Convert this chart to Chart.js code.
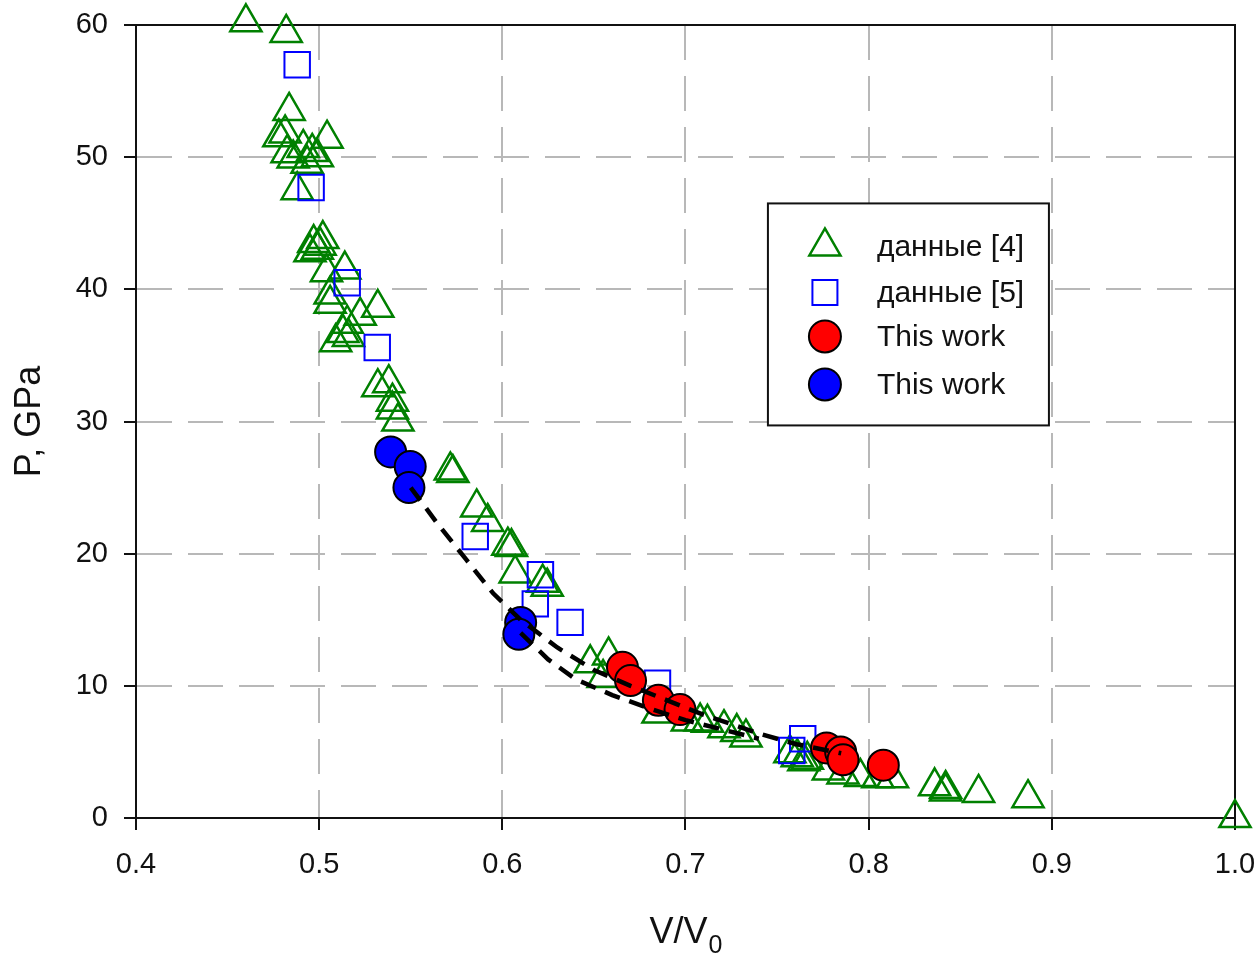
<!DOCTYPE html>
<html>
<head>
<meta charset="utf-8">
<script src="https://cdn.jsdelivr.net/npm/chart.js@4.4.1/dist/chart.umd.min.js"></script>
<style>
  html, body { margin: 0; padding: 0; background: #fff; }
  #wrap { width: 1258px; height: 956px; position: relative; }
</style>
</head>
<body>
<div id="wrap"><canvas id="grafica"></canvas></div>
<script>
// данные [4] - triangles
var d4V = [0.460, 0.482, 0.4836, 0.4814, 0.478, 0.4913, 0.5043, 0.4962, 0.4858, 0.4825, 0.4934, 0.499, 0.488,
  0.497, 0.5005, 0.502, 0.499, 0.495, 0.514, 0.504, 0.506, 0.506, 0.532, 0.5224, 0.5153, 0.513, 0.509, 0.516,
  0.532, 0.538, 0.540, 0.540, 0.543, 0.5716, 0.573, 0.586, 0.592, 0.603, 0.605, 0.607, 0.622, 0.6245,
  0.648, 0.658, 0.655, 0.685, 0.701, 0.708, 0.712, 0.721, 0.728, 0.733, 0.757, 0.761, 0.7665, 0.7646,
  0.778, 0.786, 0.7955, 0.805, 0.813, 0.836, 0.842, 0.842, 0.860, 0.887, 1.0];
var d4P = [60.2, 59.4, 53.5, 51.8, 51.5, 50.7, 51.4, 50.4, 49.9, 50.3, 49.5, 50.0, 47.5,
  43.5, 43.3, 43.8, 43.0, 42.8, 41.5, 41.3, 39.6, 38.9, 38.6, 38.0, 37.4, 36.7, 36.0, 36.4,
  32.6, 32.9, 31.5, 30.9, 30.0, 26.3, 26.1, 23.5, 22.4, 20.6, 20.5, 18.5, 17.8, 17.5,
  11.7, 12.3, 10.6, 7.9, 7.3, 7.3, 7.2, 6.8, 6.5, 6.1, 4.9, 4.6, 4.4, 4.3,
  3.6, 3.3, 3.1, 3.0, 3.0, 2.4, 2.2, 2.0, 1.9, 1.5, 0.0];

// данные [5] - squares
var d5V = [0.488, 0.4956, 0.5153, 0.5317, 0.5852, 0.6208, 0.618, 0.637, 0.6847, 0.764, 0.758];
var d5P = [57.0, 47.7, 40.5, 35.6, 21.3, 18.4, 16.2, 14.8, 10.2, 6.0, 5.1];

// This work (red)
var redV = [0.6656, 0.670, 0.6852, 0.697, 0.777, 0.7847, 0.786, 0.808];
var redP = [11.4, 10.4, 8.9, 8.2, 5.3, 5.0, 4.4, 4.0];

// This work (blue)
var blueV = [0.539, 0.5497, 0.549, 0.610, 0.609];
var blueP = [27.7, 26.6, 25.0, 14.8, 13.9];

// fitted dashed curves
var fitAV = [0.55, 0.565, 0.58, 0.595, 0.61, 0.63, 0.65, 0.67, 0.69, 0.71, 0.74, 0.76, 0.785];
var fitAP = [25.0, 22.2, 19.6, 17.0, 15.0, 12.9, 11.2, 10.0, 8.9, 7.8, 6.4, 5.6, 4.9];
var fitBV = [0.61, 0.625, 0.64, 0.66, 0.68, 0.70, 0.72, 0.74];
var fitBP = [14.0, 12.0, 10.5, 9.3, 8.3, 7.4, 6.7, 6.0];

var xTicks = [0.4, 0.5, 0.6, 0.7, 0.8, 0.9, 1.0];
var yTicks = [0, 10, 20, 30, 40, 50, 60];

function pares(xs, ys) {
  var out = [];
  for (var i = 0; i < xs.length; i++) out.push({ x: xs[i], y: ys[i] });
  return out;
}

var fuente = "'Liberation Sans', Arial, sans-serif";

// the label overflow paddings would shrink the plot area, drop them
function sinRelleno(s) {
  s.paddingLeft = 0; s.paddingRight = 0; s.paddingTop = 0; s.paddingBottom = 0;
}

var marcoPlugin = {
  id: 'marco',
  beforeDatasetsDraw: function (chart) {
    var a = chart.chartArea, ctx = chart.ctx;
    ctx.save();
    ctx.strokeStyle = '#111';
    ctx.lineWidth = 2;
    ctx.strokeRect(a.left, a.top, a.right - a.left, a.bottom - a.top);
    ctx.restore();
  }
};

function dibujarMarca(ctx, tipo, x, y) {
  ctx.beginPath();
  if (tipo === 'tri') {
    var r = 18;
    ctx.moveTo(x, y - r);
    ctx.lineTo(x + r * 0.866, y + r * 0.5);
    ctx.lineTo(x - r * 0.866, y + r * 0.5);
    ctx.closePath();
    ctx.strokeStyle = '#008000'; ctx.lineWidth = 2.5; ctx.stroke();
  } else if (tipo === 'sq') {
    ctx.rect(x - 12.5, y - 12.5, 25, 25);
    ctx.strokeStyle = '#0000ff'; ctx.lineWidth = 2; ctx.stroke();
  } else {
    ctx.arc(x, y, 16, 0, Math.PI * 2);
    ctx.fillStyle = tipo; ctx.fill();
    ctx.strokeStyle = '#000'; ctx.lineWidth = 2; ctx.stroke();
  }
}

var leyendaPlugin = {
  id: 'leyenda',
  afterDatasetsDraw: function (chart) {
    var a = chart.chartArea, ctx = chart.ctx;
    var w = a.right - a.left, h = a.bottom - a.top;
    var bx = a.left + w * 0.575, by = a.top + h * 0.225;
    var bw = 281, bh = 222;
    ctx.save();
    ctx.fillStyle = '#fff';
    ctx.fillRect(bx, by, bw, bh);
    ctx.strokeStyle = '#111';
    ctx.lineWidth = 2;
    ctx.strokeRect(bx, by, bw, bh);
    var filas = [
      { tipo: 'tri', texto: 'данные [4]', dy: 43 },
      { tipo: 'sq', texto: 'данные [5]', dy: 89 },
      { tipo: '#ff0000', texto: 'This work', dy: 133 },
      { tipo: '#0000ff', texto: 'This work', dy: 181 }
    ];
    filas.forEach(function (f) {
      dibujarMarca(ctx, f.tipo, bx + 57, by + f.dy);
      ctx.fillStyle = '#111';
      ctx.font = '30px ' + fuente;
      ctx.textBaseline = 'middle';
      ctx.textAlign = 'left';
      ctx.fillText(f.texto, bx + 109, by + f.dy + 1);
    });
    ctx.restore();
  }
};

var tituloXPlugin = {
  id: 'tituloX',
  afterDraw: function (chart) {
    var a = chart.chartArea, ctx = chart.ctx;
    ctx.save();
    ctx.fillStyle = '#111';
    ctx.textBaseline = 'alphabetic';
    ctx.textAlign = 'left';
    ctx.font = '36px ' + fuente;
    var t1 = 'V/V';
    var w1 = ctx.measureText(t1).width;
    ctx.font = '25px ' + fuente;
    var w2 = ctx.measureText('0').width;
    var x0 = (a.left + a.right) / 2 - (w1 + w2) / 2;
    var base = a.bottom + 125;
    ctx.font = '36px ' + fuente;
    ctx.fillText(t1, x0, base);
    ctx.font = '25px ' + fuente;
    ctx.fillText('0', x0 + w1 + 1, base + 10);
    ctx.restore();
  }
};

var ctx = document.getElementById('grafica').getContext('2d');
var grafico = new Chart(ctx, {
  type: 'scatter',
  data: {
    datasets: [
      {
        label: 'fitA', type: 'line', data: pares(fitAV, fitAP), showLine: true,
        borderColor: '#000', borderWidth: 4.5, borderDash: [16, 10], pointRadius: 0, fill: false, clip: false
      },
      {
        label: 'fitB', type: 'line', data: pares(fitBV, fitBP), showLine: true,
        borderColor: '#000', borderWidth: 4.5, borderDash: [16, 10], pointRadius: 0, fill: false, clip: false
      },
      {
        label: 'This work', data: pares(redV, redP), pointStyle: 'circle', pointRadius: 15.5,
        backgroundColor: '#ff0000', borderColor: '#000', borderWidth: 2, clip: false
      },
      {
        label: 'This work', data: pares(blueV, blueP), pointStyle: 'circle', pointRadius: 15.5,
        backgroundColor: '#0000ff', borderColor: '#000', borderWidth: 2, clip: false
      },
      {
        label: 'данные [5]', data: pares(d5V, d5P), pointStyle: 'rect', pointRadius: 18,
        backgroundColor: 'rgba(0,0,0,0)', borderColor: '#0000ff', borderWidth: 2, clip: false
      },
      {
        label: 'данные [4]', data: pares(d4V, d4P), pointStyle: 'triangle', pointRadius: 18,
        backgroundColor: 'rgba(0,0,0,0)', borderColor: '#008000', borderWidth: 2.5, clip: false
      }
    ]
  },
  options: {
    responsive: true,
    maintainAspectRatio: false,
    animation: false,
    events: [],
    layout: { autoPadding: false, padding: { top: 25, right: 23, left: 0, bottom: 0 } },
    plugins: {
      legend: { display: false },
      tooltip: { enabled: false }
    },
    scales: {
      x: {
        type: 'linear',
        min: 0.4, max: 1.0,
        afterFit: function (s) { s.height = 138; sinRelleno(s); },
        afterBuildTicks: function (s) { s.ticks = xTicks.map(function (v) { return { value: v }; }); },
        ticks: {
          color: '#111',
          font: { family: fuente, size: 29 },
          padding: 18,
          maxRotation: 0,
          callback: function (v) { return Number(v).toFixed(1); }
        },
        grid: {
          color: '#b8b8b8', lineWidth: 2, tickLength: 12, tickColor: '#111', tickWidth: 2, tickBorderDash: []
        },
        border: { display: true, color: '#111', width: 2, dash: [35, 16] },
        title: { display: false }
      },
      y: {
        type: 'linear',
        min: 0, max: 60,
        afterFit: function (s) { s.width = 136; sinRelleno(s); },
        afterBuildTicks: function (s) { s.ticks = yTicks.map(function (v) { return { value: v }; }); },
        ticks: {
          color: '#111',
          font: { family: fuente, size: 29 },
          padding: 16
        },
        grid: {
          color: '#b8b8b8', lineWidth: 2, tickLength: 12, tickColor: '#111', tickWidth: 2, tickBorderDash: []
        },
        border: { display: true, color: '#111', width: 2, dash: [35, 16] },
        title: {
          display: true, text: 'P, GPa', color: '#111',
          font: { family: fuente, size: 36 },
          padding: { top: 8, bottom: 0 }
        }
      }
    }
  },
  plugins: [marcoPlugin, leyendaPlugin, tituloXPlugin]
});
</script>
</body>
</html>
